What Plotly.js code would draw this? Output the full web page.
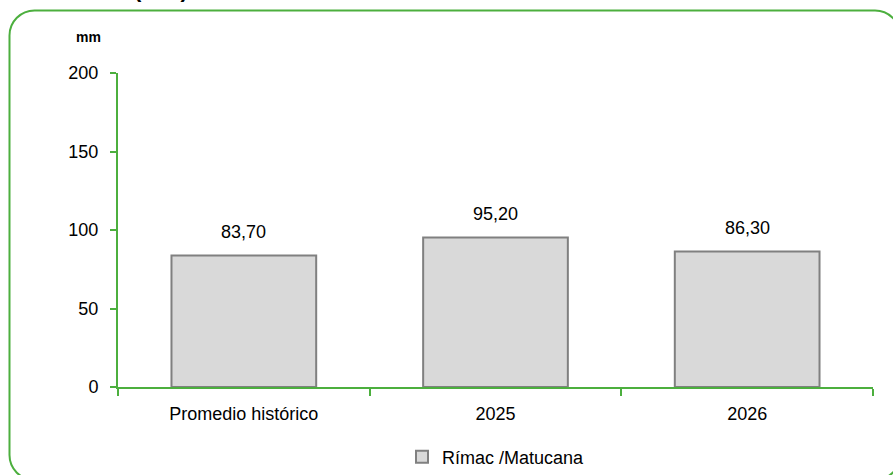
<!DOCTYPE html>
<html>
<head>
<meta charset="utf-8">
<script src="https://cdn.plot.ly/plotly-3.0.1.min.js"></script>
<style>html,body{margin:0;padding:0;background:#fff;}#chart{width:893px;height:475px;}</style>
</head>
<body>
<div id="chart"></div>
<script>
const categories = ["Promedio histórico", "2025", "2026"];
const values = [83.7, 95.2, 86.3];
const seriesName = "Rímac /Matucana";
const yTicks = [0, 50, 100, 150, 200];

const W = 893, H = 475;
const M = {l: 118, r: 20, t: 73, b: 88, autoexpand: false};
const PW = W - M.l - M.r, PH = H - M.t - M.b;
const X = px => (px - M.l) / PW;
const Y = py => (H - M.b - py) / PH;

const green = "#4caf3e";
const font = "Liberation Sans, Arial, sans-serif";

function roundedRect(l, t, r, b, rad) {
  const k = rad * 0.5523;
  const P = (x, y) => X(x).toFixed(5) + "," + Y(y).toFixed(5);
  return "M" + P(l, t + rad) +
    " L" + P(l, b - rad) +
    " C" + P(l, b - rad + k) + " " + P(l + rad - k, b) + " " + P(l + rad, b) +
    " L" + P(r - rad, b) +
    " C" + P(r - rad + k, b) + " " + P(r, b - rad + k) + " " + P(r, b - rad) +
    " L" + P(r, t + rad) +
    " C" + P(r, t + rad - k) + " " + P(r - rad + k, t) + " " + P(r - rad, t) +
    " L" + P(l + rad, t) +
    " C" + P(l + rad - k, t) + " " + P(l, t + rad - k) + " " + P(l, t + rad) + " Z";
}

const trace = {
  type: "bar",
  x: categories,
  y: values,
  name: seriesName,
  width: 0.575,
  marker: {color: "#d9d9d9", line: {color: "#808080", width: 2}},
  hoverinfo: "none",
  showlegend: true
};

const annotations = categories.map((c, i) => ({
  x: i, y: values[i], xref: "x", yref: "y",
  text: values[i].toFixed(2).replace(".", ","),
  showarrow: false, yanchor: "bottom", yshift: 12,
  font: {family: font, size: 18, color: "#000"}
}));
annotations.push({
  xref: "paper", yref: "paper", x: X(74), y: Y(37), xanchor: "left", yanchor: "middle",
  text: "<b>mm</b>", showarrow: false, font: {family: font, size: 14, color: "#000"}
});
annotations.push({
  xref: "paper", yref: "paper", x: X(161), y: Y(-10), xanchor: "center", yanchor: "middle",
  text: "<b>(mm)</b>", showarrow: false, font: {family: font, size: 22, color: "#000"}
});

const layout = {
  width: W, height: H,
  margin: M,
  paper_bgcolor: "#fff", plot_bgcolor: "#fff",
  separators: ",.",
  font: {family: font, size: 18, color: "#000"},
  xaxis: {
    type: "category", categoryorder: "array", categoryarray: categories,
    range: [-0.5, 2.5], automargin: false,
    showline: true, linecolor: green, linewidth: 2,
    ticks: "outside", tickson: "boundaries", ticklen: 7, tickcolor: green, tickwidth: 2,
    showgrid: false, zeroline: false, tickangle: 0,
    tickfont: {family: font, size: 18, color: "#000"},
    ticklabelstandoff: 9,
    fixedrange: true
  },
  yaxis: {
    range: [0, 200], tickvals: yTicks, automargin: false,
    showline: true, linecolor: green, linewidth: 2,
    ticks: "outside", ticklen: 6, tickcolor: green, tickwidth: 2,
    showgrid: false, zeroline: false,
    tickfont: {family: font, size: 18, color: "#000"},
    ticklabelstandoff: 8,
    fixedrange: true
  },
  legend: {
    orientation: "h", x: X(496), xanchor: "center", y: Y(457), yanchor: "middle",
    font: {family: font, size: 18, color: "#000"},
    itemwidth: 30
  },
  annotations: annotations,
  shapes: [{
    type: "path", xref: "paper", yref: "paper",
    path: roundedRect(9.5, 10.5, 900, 480, 25),
    line: {color: green, width: 2}, fillcolor: "rgba(0,0,0,0)", layer: "below"
  }]
};

Plotly.newPlot("chart", [trace], layout, {displayModeBar: false, staticPlot: true});
</script>
</body>
</html>
